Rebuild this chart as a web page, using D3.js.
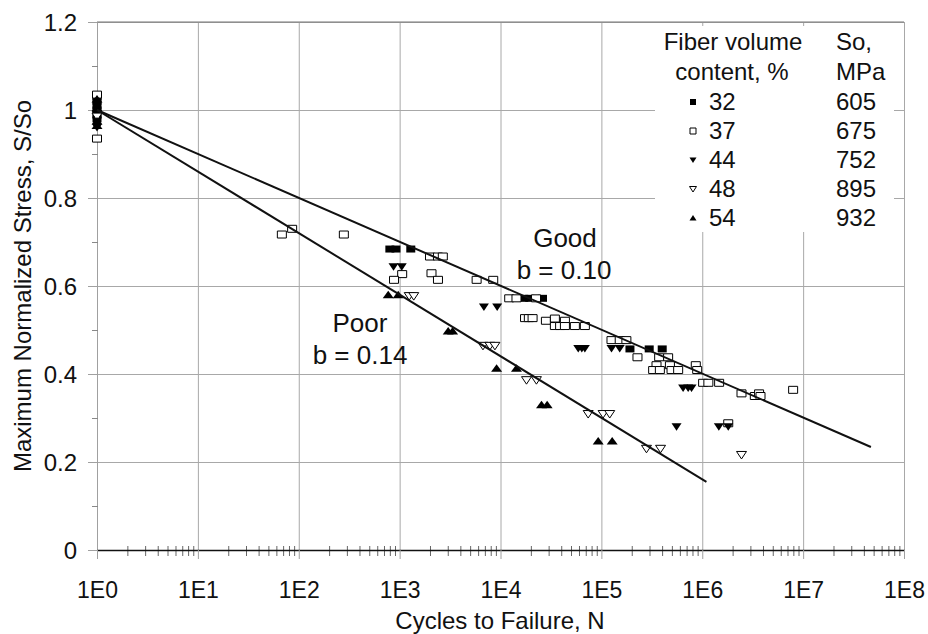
<!DOCTYPE html>
<html>
<head>
    <title>S-N fatigue chart</title>
    <script type="text/javascript" src="https://cdn.jsdelivr.net/npm/d3@7/dist/d3.min.js"></script>
    <style type="text/css">
        body {
            margin: 0;
            background-color: #fff;
        }
        #chart {
            display: block;
            font-family: "Liberation Sans", Arial, sans-serif;
        }
        .grid line {
            stroke: #a8a8a8;
            stroke-width: 1px;
        }
        .marker-open {
            fill: #fff;
            stroke: #000;
            stroke-width: 1px;
        }
        .marker-filled {
            fill: #000;
            stroke: none;
        }
        .fit {
            stroke: #111;
            stroke-width: 2px;
            fill: none;
        }
    </style>
</head>

<body>
    <svg id="chart" width="928" height="634"></svg>
</body>

<script type="text/javascript">
    // tick values and labels
    const xTicks = [1, 1e1, 1e2, 1e3, 1e4, 1e5, 1e6, 1e7, 1e8];
    const xTickLabels = ["1E0", "1E1", "1E2", "1E3", "1E4", "1E5", "1E6", "1E7", "1E8"];
    const yTicks = [0, 0.2, 0.4, 0.6, 0.8, 1, 1.2];
    const yTickLabels = ["0", "0.2", "0.4", "0.6", "0.8", "1", "1.2"];
    const yMinorTicks = [0.1, 0.3, 0.5, 0.7, 0.9, 1.1];

    // fiber volume content 32 %
    const cycles32 = [1, 1, 1, 1, 1, 1, 800, 920, 1290, 17000, 19500, 26100, 192000, 298000, 401000];
    const stress32 = [1.03, 1.02, 1.01, 1.0, 0.99, 0.98, 0.684, 0.684, 0.684, 0.572, 0.572, 0.572, 0.457, 0.457, 0.457];

    // fiber volume content 37 %
    const cycles37 = [1, 1, 68, 86, 280, 2000, 2400, 2680, 1060, 880, 2070, 2400, 5800, 8470,
        12200, 14400, 22500, 17500, 19100, 20800, 28200, 34600, 43500,
        34600, 39000, 43500, 54600, 68600, 126000, 152000, 177000,
        228000, 374000, 459000, 352000, 478000, 326000, 380000, 496000, 577000,
        863000, 891000, 1020000, 1150000, 1470000, 2450000, 3320000, 3660000, 3780000,
        7960000, 1810000];
    const stress37 = [1.035, 0.935, 0.717, 0.730, 0.717, 0.667, 0.667, 0.667, 0.627, 0.614, 0.629, 0.614, 0.614, 0.614,
        0.572, 0.572, 0.572, 0.527, 0.527, 0.527, 0.521, 0.526, 0.521,
        0.509, 0.509, 0.509, 0.509, 0.509, 0.477, 0.477, 0.477,
        0.438, 0.438, 0.438, 0.420, 0.420, 0.409, 0.409, 0.409, 0.409,
        0.420, 0.409, 0.380, 0.380, 0.380, 0.356, 0.350, 0.356, 0.350,
        0.364, 0.288];

    // fiber volume content 44 %
    const cycles44 = [1, 1, 1, 870, 1050, 6850, 9270, 59000, 64000, 68600, 126000, 152000,
        646000, 725000, 783000, 556000, 1460000, 1810000];
    const stress44 = [0.96, 0.975, 0.99, 0.644, 0.644, 0.552, 0.552, 0.458, 0.458, 0.458, 0.458, 0.458,
        0.368, 0.368, 0.368, 0.280, 0.280, 0.280];

    // fiber volume content 48 %
    const cycles48 = [1, 1245, 1380, 6700, 7850, 8800, 18100, 22700, 74000, 104000, 121000,
        280000, 386000, 2450000];
    const stress48 = [0.985, 0.577, 0.577, 0.464, 0.464, 0.464, 0.386, 0.386, 0.309, 0.309, 0.309,
        0.230, 0.230, 0.216];

    // fiber volume content 54 %
    const cycles54 = [1, 1, 1, 1, 771, 968, 3030, 3350, 9150, 14400, 25500, 29000, 93000, 128000];
    const stress54 = [1.025, 1.005, 0.975, 0.965, 0.580, 0.580, 0.498, 0.498, 0.413, 0.413, 0.330, 0.330, 0.248, 0.248];

    // fitted lines (end points)
    const goodCycles = [1, 4.7e7];
    const goodStress = [1, 0.234];
    const poorCycles = [1, 1.1e6];
    const poorStress = [1, 0.155];

    // legend
    const fiberContent = ["32", "37", "44", "48", "54"];
    const strengthMPa = ["605", "675", "752", "895", "932"];

    const shapes = {
        square: "M-4.5,-3.5h9v7h-9z",
        down: "M-5,-3.5L5,-3.5L0,4z",
        up: "M-5.5,3.5L5.5,3.5L0,-4z"
    };
    const legendShapes = {
        square: "M-3,-3h6v6h-6z",
        down: "M-3.5,-2.5L3.5,-2.5L0,3z",
        up: "M-3.5,2.5L3.5,2.5L0,-3z"
    };

    const series = [
        {cycles: cycles32, stress: stress32, shape: "square", open: false},
        {cycles: cycles37, stress: stress37, shape: "square", open: true},
        {cycles: cycles44, stress: stress44, shape: "down", open: false},
        {cycles: cycles48, stress: stress48, shape: "down", open: true},
        {cycles: cycles54, stress: stress54, shape: "up", open: false}
    ];

    const svg = d3.select("#chart");
    const x = d3.scaleLog().domain([1, 1e8]).range([97, 904]);
    const y = d3.scaleLinear().domain([0, 1.2]).range([550, 22]);

    // grid lines
    svg.append("g").attr("class", "grid")
        .attr("transform", "translate(0," + y(0) + ")")
        .call(d3.axisBottom(x).tickValues(xTicks.slice(1)).tickSize(-(y(0) - y(1.2))).tickFormat(""))
        .call(g => g.select(".domain").remove());
    svg.append("g").attr("class", "grid")
        .attr("transform", "translate(" + x(1) + ",0)")
        .call(d3.axisLeft(y).tickValues(yTicks.slice(1)).tickSize(-(x(1e8) - x(1))).tickFormat(""))
        .call(g => g.select(".domain").remove());

    // top border
    svg.append("line")
        .attr("x1", x(1)).attr("x2", x(1e8))
        .attr("y1", y(1.2)).attr("y2", y(1.2))
        .attr("stroke", "#777").attr("stroke-width", 1.2);

    // legend background
    svg.append("rect")
        .attr("x", 655).attr("y", 26)
        .attr("width", 239).attr("height", 206)
        .attr("fill", "#fff");

    // y axis
    const yAxis = svg.append("g")
        .attr("transform", "translate(" + x(1) + ",0)")
        .call(d3.axisLeft(y).tickValues(yTicks).tickSize(9).tickSizeOuter(0).tickPadding(11)
            .tickFormat((d, i) => yTickLabels[i]));
    yAxis.select(".domain").attr("stroke", "#a0a0a0");
    yAxis.selectAll(".tick line").attr("stroke", "#a0a0a0");
    yAxis.selectAll("text").attr("font-size", 24).attr("font-family", "Liberation Sans, Arial")
        .attr("fill", "#111").attr("dy", "0.36em");

    const yMinor = svg.append("g")
        .attr("transform", "translate(" + (x(1) + 1) + ",0)")
        .call(d3.axisLeft(y).tickValues(yMinorTicks).tickSize(6).tickFormat(""));
    yMinor.select(".domain").remove();
    yMinor.selectAll(".tick line").attr("stroke", "#888");

    // x axis minor ticks
    const xMinorTicks = [];
    xTicks.slice(0, -1).forEach(function(d) {
        for (let m = 2; m <= 9; m++) xMinorTicks.push(d * m);
    });
    const xMinor = svg.append("g")
        .attr("transform", "translate(0," + (y(0) - 4) + ")")
        .call(d3.axisBottom(x).tickValues(xMinorTicks).tickSize(10).tickFormat(""));
    xMinor.select(".domain").remove();
    xMinor.selectAll(".tick line").attr("stroke", "#666");

    // x axis
    const xAxis = svg.append("g")
        .attr("transform", "translate(0," + y(0) + ")")
        .call(d3.axisBottom(x).tickValues(xTicks).tickSize(9).tickSizeOuter(0).tickPadding(23)
            .tickFormat((d, i) => xTickLabels[i]));
    xAxis.select(".domain").attr("stroke", "#111").attr("stroke-width", 1.6);
    xAxis.selectAll(".tick line").attr("stroke", "#a0a0a0");
    xAxis.selectAll("text").attr("font-size", 23).attr("font-family", "Liberation Sans, Arial")
        .attr("fill", "#111");

    // axis titles
    svg.append("text")
        .attr("x", 500).attr("y", 629)
        .attr("text-anchor", "middle")
        .attr("font-size", 24).attr("fill", "#111")
        .text("Cycles to Failure, N");
    svg.append("text")
        .attr("transform", "translate(31," + ((y(0) + y(1.2)) / 2) + ") rotate(-90)")
        .attr("text-anchor", "middle")
        .attr("font-size", 24).attr("fill", "#111")
        .text("Maximum Normalized Stress, S/So");

    // data markers
    series.forEach(function(s) {
        svg.append("g").selectAll("path")
            .data(s.cycles.map((c, i) => [c, s.stress[i]]))
            .join("path")
            .attr("class", s.open ? "marker-open" : "marker-filled")
            .attr("d", shapes[s.shape])
            .attr("stroke", s.open && s.shape !== "square" ? "#444" : null)
            .attr("transform", d => "translate(" + x(d[0]) + "," + y(d[1]) + ")");
    });

    // fit lines
    const line = d3.line().x(d => x(d[0])).y(d => y(d[1]));
    svg.append("path").attr("class", "fit")
        .attr("d", line(goodCycles.map((c, i) => [c, goodStress[i]])));
    svg.append("path").attr("class", "fit")
        .attr("d", line(poorCycles.map((c, i) => [c, poorStress[i]])));

    // annotations
    const notes = [
        {text: "Good", x: 565, y: 247},
        {text: "b = 0.10", x: 564, y: 279},
        {text: "Poor", x: 360, y: 332},
        {text: "b = 0.14", x: 360, y: 364}
    ];
    svg.append("g").selectAll("text")
        .data(notes)
        .join("text")
        .attr("x", d => d.x).attr("y", d => d.y)
        .attr("text-anchor", "middle")
        .attr("font-size", 26).attr("fill", "#111")
        .text(d => d.text);

    // legend
    const legend = svg.append("g").attr("font-size", 24).attr("fill", "#111");
    legend.append("text").attr("x", 733).attr("y", 50).attr("text-anchor", "middle").text("Fiber volume");
    legend.append("text").attr("x", 732).attr("y", 80).attr("text-anchor", "middle").text("content, %");
    legend.append("text").attr("x", 836).attr("y", 50).text("So,");
    legend.append("text").attr("x", 836).attr("y", 80).text("MPa");
    const rows = legend.selectAll("g.row")
        .data(fiberContent)
        .join("g")
        .attr("class", "row")
        .attr("transform", (d, i) => "translate(0," + (110 + i * 29) + ")");
    rows.append("path")
        .attr("class", (d, i) => series[i].open ? "marker-open" : "marker-filled")
        .attr("d", (d, i) => legendShapes[series[i].shape])
        .attr("stroke", (d, i) => series[i].open && series[i].shape !== "square" ? "#444" : null)
        .attr("transform", "translate(693,-8)");
    rows.append("text").attr("x", 709).text(d => d);
    rows.append("text").attr("x", 836).text((d, i) => strengthMPa[i]);
</script>

</html>
